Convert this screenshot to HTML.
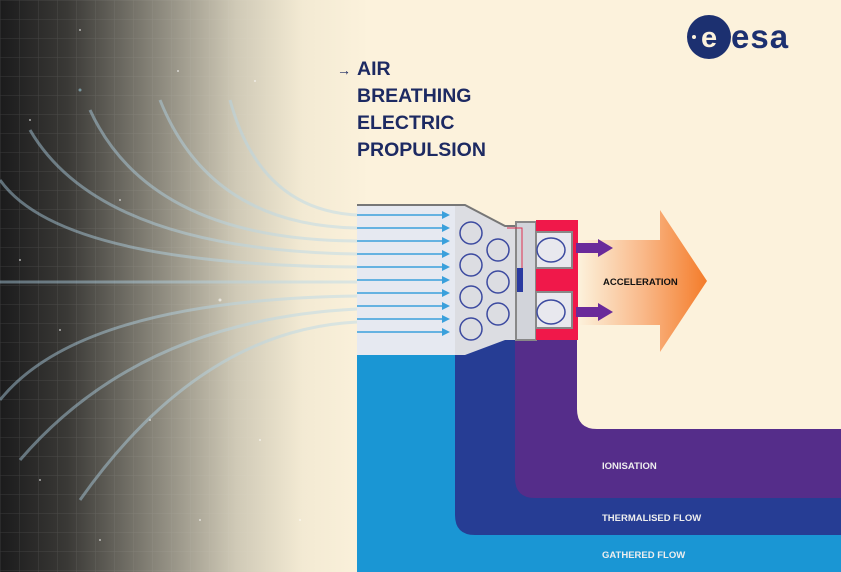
<!DOCTYPE html>
<html><head><meta charset="utf-8"><style>
html,body{margin:0;padding:0;width:841px;height:572px;overflow:hidden;background:#fcf2dc}
svg{display:block}
text{font-family:"Liberation Sans",sans-serif;font-weight:bold}
</style></head><body>
<svg width="841" height="572" viewBox="0 0 841 572" xmlns="http://www.w3.org/2000/svg">
<defs>
<linearGradient id="bg" x1="0" x2="1" y1="0" y2="0">
<stop offset="0" stop-color="#1b1b1c"/>
<stop offset="0.08" stop-color="#3a3936"/>
<stop offset="0.18" stop-color="#858277"/>
<stop offset="0.28" stop-color="#cfc9b6"/>
<stop offset="0.36" stop-color="#f3ead3"/>
<stop offset="0.44" stop-color="#fcf2dc"/>
<stop offset="1" stop-color="#fcf2dc"/>
</linearGradient>
<linearGradient id="acc" x1="0" x2="1">
<stop offset="0" stop-color="#fcf2dc"/>
<stop offset="0.5" stop-color="#f9b98a"/>
<stop offset="1" stop-color="#f47c2a"/>
</linearGradient>
<pattern id="grid" width="19" height="19" patternUnits="userSpaceOnUse">
<path d="M19 0H0V19" fill="none" stroke="#ffffff" stroke-opacity="0.13" stroke-width="1"/>
</pattern>
<linearGradient id="fade" x1="0" x2="1"><stop offset="0" stop-color="#fff" stop-opacity="1"/><stop offset="0.45" stop-color="#fff" stop-opacity="0.6"/><stop offset="1" stop-color="#fff" stop-opacity="0"/></linearGradient>
<mask id="m"><rect width="360" height="572" fill="url(#fade)"/></mask>
</defs>
<rect width="841" height="572" fill="url(#bg)"/>
<rect width="360" height="572" fill="url(#grid)" mask="url(#m)"/>
<g fill="#fff" opacity="0.6">
<circle cx="80" cy="30" r="1"/><circle cx="178" cy="71" r="1"/><circle cx="30" cy="120" r="1"/><circle cx="255" cy="81" r="1"/><circle cx="120" cy="200" r="1"/><circle cx="60" cy="330" r="1"/><circle cx="220" cy="300" r="1.5"/><circle cx="150" cy="420" r="1"/><circle cx="40" cy="480" r="1"/><circle cx="260" cy="440" r="1"/><circle cx="100" cy="540" r="1"/><circle cx="200" cy="520" r="1"/><circle cx="20" cy="260" r="1"/><circle cx="300" cy="520" r="1"/><circle cx="80" cy="90" r="1.5" fill="#9cd"/>
</g>
<g fill="none" stroke="#b4d6ea" stroke-opacity="0.45" stroke-width="3">
<path d="M230 100 Q260 210 357 215"/>
<path d="M160 100 Q210 225 357 228"/>
<path d="M90 110 Q150 240 357 241"/>
<path d="M30 130 Q100 250 357 254"/>
<path d="M0 180 Q60 265 357 267"/>
<path d="M0 282 L357 282"/>
<path d="M0 400 Q80 300 357 296"/>
<path d="M20 460 Q140 320 357 309"/>
<path d="M80 500 Q200 330 357 322"/>
</g>
<rect x="357" y="340" width="484" height="232" fill="#1a96d4"/>
<path d="M455 340 H841 V535 H475 Q455 535 455 515 Z" fill="#263d94"/>
<path d="M515 340 H841 V498 H535 Q515 498 515 478 Z" fill="#552d8a"/>
<path d="M577 340 H841 V429 H597 Q577 429 577 409 Z" fill="#fcf2dc"/>
<text x="602" y="469" font-size="9.5" fill="#eee">IONISATION</text>
<text x="602" y="521" font-size="9.5" fill="#eee">THERMALISED FLOW</text>
<text x="602" y="558" font-size="9.5" fill="#eee">GATHERED FLOW</text>
<rect x="357" y="205" width="100" height="150" fill="#e6e9f1"/>
<line x1="357" y1="205" x2="455" y2="205" stroke="#777" stroke-width="2"/>
<path d="M455 205 L465 205 L505 226 L516 226 L516 340 L505 340 L465 355 L455 355 Z" fill="#dcdde2"/>
<path d="M455 205 L465 205 L505 226 L516 226" fill="none" stroke="#777" stroke-width="2"/>
<rect x="516" y="222" width="20" height="118" fill="#d2d4da" stroke="#888" stroke-width="2"/>
<rect x="536" y="220" width="42" height="120" fill="#f0184a"/>
<rect x="536" y="232" width="36" height="36" fill="#e8e8ee" stroke="#888" stroke-width="2"/>
<rect x="536" y="292" width="36" height="36" fill="#e8e8ee" stroke="#888" stroke-width="2"/>
<path d="M507 228 H522 V290" fill="none" stroke="#e03050" stroke-width="1"/>
<rect x="517" y="268" width="6" height="24" fill="#2a3aa0"/>
<g fill="none" stroke="#3c4aa0" stroke-width="1.5">
<ellipse cx="551" cy="250" rx="14" ry="12"/><ellipse cx="551" cy="312" rx="14" ry="12"/>
<circle cx="471" cy="233" r="11"/><circle cx="471" cy="265" r="11"/><circle cx="471" cy="297" r="11"/><circle cx="471" cy="329" r="11"/>
<circle cx="498" cy="250" r="11"/><circle cx="498" cy="282" r="11"/><circle cx="498" cy="314" r="11"/>
</g>
<g stroke="#3aa0dc" stroke-width="1.5">
<line x1="357" y1="215" x2="443" y2="215"/><line x1="357" y1="228" x2="443" y2="228"/><line x1="357" y1="241" x2="443" y2="241"/><line x1="357" y1="254" x2="443" y2="254"/><line x1="357" y1="267" x2="443" y2="267"/><line x1="357" y1="280" x2="443" y2="280"/><line x1="357" y1="293" x2="443" y2="293"/><line x1="357" y1="306" x2="443" y2="306"/><line x1="357" y1="319" x2="443" y2="319"/><line x1="357" y1="332" x2="443" y2="332"/>
</g>
<g fill="#3aa0dc">
<path d="M442 211 L450 215 L442 219Z"/><path d="M442 224 L450 228 L442 232Z"/><path d="M442 237 L450 241 L442 245Z"/><path d="M442 250 L450 254 L442 258Z"/><path d="M442 263 L450 267 L442 271Z"/><path d="M442 276 L450 280 L442 284Z"/><path d="M442 289 L450 293 L442 297Z"/><path d="M442 302 L450 306 L442 310Z"/><path d="M442 315 L450 319 L442 323Z"/><path d="M442 328 L450 332 L442 336Z"/>
</g>
<path d="M578 240 H660 V210 L707 281 L660 352 V325 H578 Z" fill="url(#acc)"/>
<g fill="#6a2a9a">
<rect x="576" y="243" width="22" height="10"/><path d="M598 239 L613 248 L598 257Z"/>
<rect x="576" y="307" width="22" height="10"/><path d="M598 303 L613 312 L598 321Z"/>
</g>
<text x="603" y="285" font-size="9.5" fill="#111">ACCELERATION</text>
<g fill="#1d2a62" font-size="19.5">
<text x="337" y="75" font-size="14">→</text>
<text x="357" y="75">AIR</text>
<text x="357" y="102">BREATHING</text>
<text x="357" y="129">ELECTRIC</text>
<text x="357" y="156">PROPULSION</text>
</g>
<circle cx="709" cy="37" r="22" fill="#1c3070"/>
<circle cx="694" cy="37" r="2" fill="#fcf2dc"/>
<text x="701" y="47" font-size="29" fill="#fcf2dc">e</text>
<text x="731" y="48" font-size="33" fill="#1c3070" letter-spacing="1">esa</text>
</svg>
</body></html>
